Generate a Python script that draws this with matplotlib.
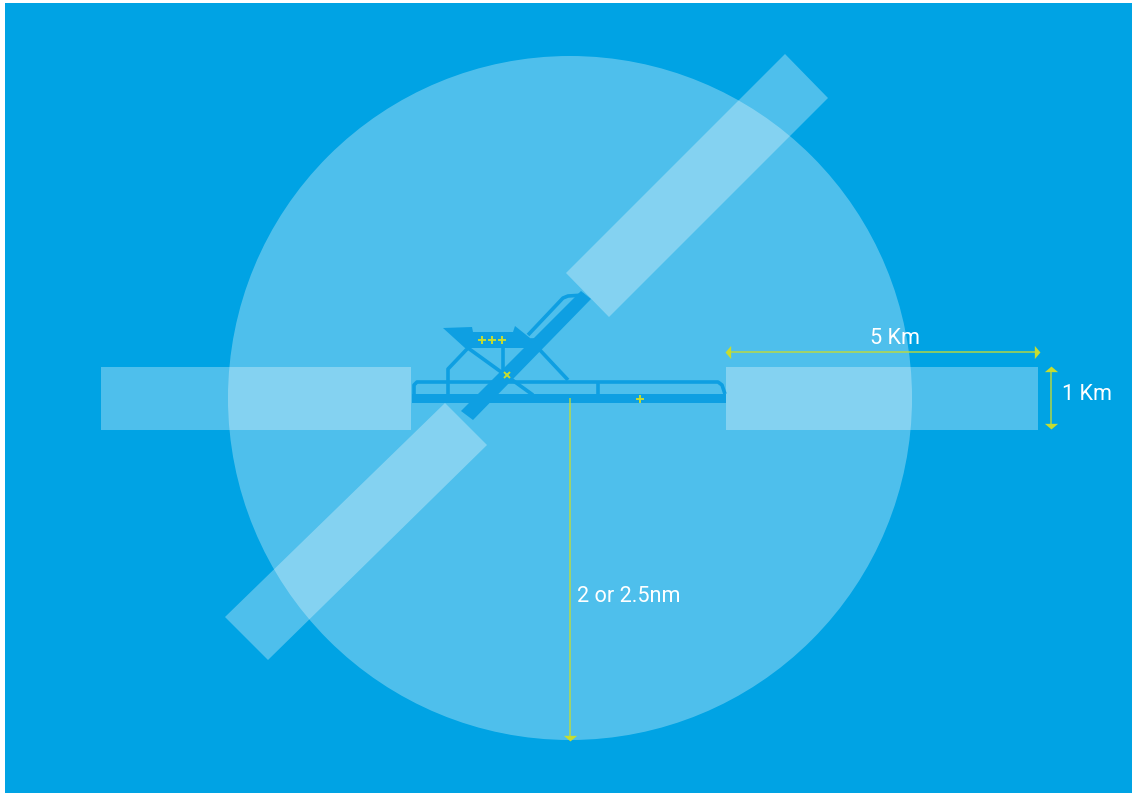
import matplotlib
matplotlib.use("Agg")
import matplotlib.pyplot as plt
from matplotlib.patches import Circle, Polygon, Rectangle

W, H = 1132, 793
BG = "#00A3E4"
AIR = "#0E9FE2"
YEL = "#C6DC30"

frame = (5, 3, 1132, 793)
circle_centre = (570, 398)
circle_radius = 342
zones = [
    [(101, 367), (411, 367), (411, 430), (101, 430)],
    [(726, 367), (1038, 367), (1038, 430), (726, 430)],
    [(785, 54), (828, 98), (609, 317), (566, 273)],
    [(445, 403), (487, 445), (268, 660), (225, 617)],
]
solid_shapes = [
    [(412, 394), (726, 394), (726, 403), (412, 403)],
    [(581, 291), (591, 299), (473, 420), (461, 411)],
    [(443, 328), (472, 327), (473, 332), (513, 332), (515, 326), (530, 338), (532, 348), (465, 348)],
]
taxi_lines = [
    [(414, 394), (414, 385), (417, 382), (718, 382), (722, 385), (725, 394)],
    [(598, 383), (598, 395)],
    [(448, 395), (448, 369), (468, 348)],
    [(468, 348), (533, 395)],
    [(503, 348), (503, 377)],
    [(538, 348), (568, 380)],
    [(528, 335), (563, 298), (568, 296), (584, 295)],
    [(530, 340), (537, 340)],
]
plus_marks = [(481.5, 340), (492, 340), (502, 340), (640, 398.5)]
cross_marks = [(506.5, 375)]
labels = [("5 Km", 895.5, 338.5, "center"), ("1 Km", 1062, 395, "left"), ("2 or 2.5nm", 577, 596, "left")]

fig = plt.figure(figsize=(W / 100, H / 100), dpi=100, facecolor="white")
ax = fig.add_axes([0, 0, 1, 1])
ax.set_xlim(0, W)
ax.set_ylim(H, 0)
ax.axis("off")

ax.add_patch(Rectangle((frame[0], frame[1]), frame[2] - frame[0], frame[3] - frame[1], fc=BG, ec="none", zorder=0))
ax.add_patch(Circle(circle_centre, circle_radius, fc="white", alpha=0.31, ec="none", zorder=1))
for z in zones:
    ax.add_patch(Polygon(z, closed=True, fc="white", alpha=0.31, ec="none", zorder=2))
for s in solid_shapes:
    ax.add_patch(Polygon(s, closed=True, fc=AIR, ec="none", zorder=3))
for t in taxi_lines:
    xs, ys = zip(*t)
    ax.plot(xs, ys, color=AIR, lw=2.6, solid_joinstyle="round", solid_capstyle="butt", zorder=3)
for x, y in plus_marks:
    ax.plot([x], [y], marker="+", ms=5.2, mew=1.4, color=YEL, zorder=4)
for x, y in cross_marks:
    ax.plot([x], [y], marker="x", ms=4.2, mew=1.4, color=YEL, zorder=4)

HEADS = {
    "left": [(-0.75, 0), (0.1, 1), (0.1, -1)],
    "right": [(0.75, 0), (-0.1, 1), (-0.1, -1)],
    "up": [(0, 0.75), (1, -0.1), (-1, -0.1)],
    "down": [(0, -0.75), (1, 0.1), (-1, 0.1)],
}


def dim(x0, y0, x1, y1, starts=True, ends=True):
    ax.plot([x0, x1], [y0, y1], color=YEL, lw=1.3, alpha=0.75, zorder=4, solid_capstyle="butt")
    horiz = y0 == y1
    if starts:
        ax.plot([x0], [y0], marker=HEADS["left" if horiz else "up"], ms=9.5, color=YEL, mew=0, zorder=4)
    if ends:
        ax.plot([x1], [y1], marker=HEADS["right" if horiz else "down"], ms=9.5, color=YEL, mew=0, zorder=4)


dim(730, 352, 1035, 352)
dim(1050.5, 371, 1050.5, 424)
dim(569.5, 398, 569.5, 736, starts=False)

for text, x, y, ha in labels:
    ax.text(x, y, text, color="white", fontsize=15.6, family="Roboto", ha=ha, va="center", zorder=5)

fig.savefig("out.png", dpi=100, facecolor="white")
